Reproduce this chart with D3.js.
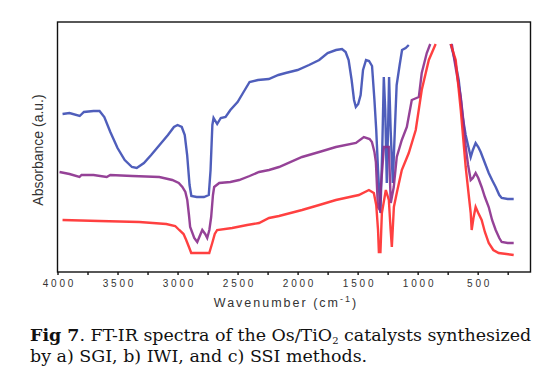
<!DOCTYPE html>
<html>
<head>
<meta charset="utf-8">
<script src="https://cdn.jsdelivr.net/npm/d3@7/dist/d3.min.js"></script>
<style>
  body { margin: 0; background: #fff; }
  svg { display: block; }
</style>
</head>
<body>
<div id="chart"></div>
<script>
// FT-IR spectra, Os/TiO2 catalysts

// wavenumbers (cm-1) and absorbance (a.u.), null = off scale
const sgiWn  = [3958, 3900, 3815, 3780, 3700, 3650, 3610, 3560, 3500, 3440, 3380, 3340, 3280, 3220, 3150, 3080, 3030, 3000, 2965, 2940, 2920, 2900, 2885, 2840, 2780, 2740, 2725, 2710, 2700, 2670, 2640, 2600, 2560, 2500, 2450, 2400, 2330, 2240, 2160, 2100, 2000, 1905, 1820, 1750, 1680, 1630, 1600, 1575, 1550, 1530, 1515, 1495, 1475, 1455, 1430, 1405, 1380, 1360, 1345, 1330, 1310, 1295, 1282, 1270, 1257, 1245, 1238, 1225, 1207, 1190, 1175, 1150, 1130, 1100, 1074, 900, 725, 690, 658, 640, 625, 600, 575, 558, 540, 517, 495, 475, 440, 408, 380, 350, 320, 300, 250, 200]
const sgiAbs = [1.58, 1.59, 1.56, 1.60, 1.61, 1.61, 1.55, 1.40, 1.24, 1.12, 1.05, 1.04, 1.09, 1.17, 1.27, 1.37, 1.45, 1.47, 1.45, 1.37, 1.17, 0.87, 0.76, 0.75, 0.75, 0.77, 1.02, 1.47, 1.54, 1.48, 1.54, 1.55, 1.62, 1.70, 1.80, 1.90, 1.92, 1.93, 1.97, 1.99, 2.02, 2.07, 2.12, 2.19, 2.22, 2.23, 2.20, 2.12, 1.92, 1.72, 1.65, 1.68, 1.77, 2.02, 2.12, 2.11, 2.06, 1.72, 1.42, 1.02, 0.59, 1.22, 1.95, 1.62, 0.89, 1.52, 1.95, 1.42, 0.89, 1.42, 1.87, 2.07, 2.22, 2.24, 2.27, null, 2.28, 2.12, 1.92, 1.72, 1.55, 1.37, 1.24, 1.15, 1.22, 1.29, 1.25, 1.20, 1.09, 0.99, 0.92, 0.85, 0.77, 0.74, 0.73, 0.73]

const iwiWn  = [3983, 3900, 3817, 3800, 3700, 3590, 3560, 3376, 3152, 3044, 2990, 2960, 2935, 2919, 2905, 2895, 2861, 2836, 2815, 2794, 2770, 2753, 2735, 2720, 2705, 2695, 2653, 2560, 2487, 2400, 2321, 2238, 2155, 1963, 1820, 1681, 1514, 1448, 1400, 1381, 1360, 1348, 1331, 1315, 1306, 1281, 1240, 1224, 1199, 1174, 1132, 1090, 1049, 990, 966, 924, 895, 800, 716, 680, 641, 620, 600, 580, 558, 540, 517, 495, 467, 440, 408, 380, 350, 320, 300, 250, 200]
const iwiAbs = [1.00, 0.98, 0.95, 0.97, 0.97, 0.95, 0.97, 0.96, 0.95, 0.92, 0.89, 0.85, 0.80, 0.72, 0.57, 0.45, 0.34, 0.30, 0.36, 0.42, 0.38, 0.34, 0.42, 0.55, 0.77, 0.85, 0.89, 0.90, 0.92, 0.96, 1.00, 1.02, 1.05, 1.15, 1.20, 1.25, 1.29, 1.35, 1.33, 1.30, 1.20, 1.10, 0.65, 0.62, 0.85, 1.25, 1.25, 0.69, 0.85, 1.15, 1.32, 1.45, 1.72, 1.75, 1.99, 2.19, 2.28, null, 2.28, 2.02, 1.75, 1.52, 1.25, 1.07, 0.92, 0.94, 0.99, 0.94, 0.85, 0.75, 0.65, 0.52, 0.42, 0.34, 0.30, 0.29, 0.29]

const ssiWn  = [3958, 3650, 3318, 3094, 3020, 2986, 2950, 2928, 2905, 2886, 2736, 2711, 2690, 2670, 2545, 2420, 2321, 2238, 2155, 1963, 1820, 1681, 1490, 1406, 1365, 1345, 1330, 1323, 1310, 1298, 1265, 1240, 1225, 1215, 1198, 1174, 1132, 1074, 1016, 966, 907, 850, 790, 725, 683, 641, 600, 570, 558, 550, 535, 517, 495, 467, 440, 408, 370, 325, 260, 200]
const ssiAbs = [0.52, 0.51, 0.50, 0.48, 0.46, 0.42, 0.38, 0.32, 0.25, 0.19, 0.19, 0.29, 0.38, 0.42, 0.44, 0.47, 0.49, 0.54, 0.56, 0.62, 0.67, 0.72, 0.77, 0.82, 0.79, 0.67, 0.42, 0.20, 0.20, 0.59, 0.82, 0.72, 0.42, 0.25, 0.65, 0.79, 1.02, 1.19, 1.42, 1.82, 2.12, 2.28, null, 2.28, 2.12, 1.62, 1.05, 0.72, 0.59, 0.42, 0.54, 0.65, 0.59, 0.52, 0.40, 0.29, 0.22, 0.19, 0.18, 0.17]

const seriesNames  = ["SGI", "IWI", "SSI"]
const seriesColors = ["#3c4db4", "#8a2e8c", "#ff2b2b"]

const xTicks = d3.range(4000, 249, -250)

const width = 553
const height = 384
const plot = { left: 57.5, right: 530.5, top: 22, bottom: 272 }

const svg = d3.select("#chart")
    .append("svg")
    .attr("width", width)
    .attr("height", height)

const x = d3.scaleLinear().domain([4000, 60]).range([plot.left, plot.right])
const y = d3.scaleLinear().domain([0, 2.5]).range([plot.bottom, plot.top])

const series = [
    { name: seriesNames[0], wn: sgiWn, abs: sgiAbs, color: seriesColors[0] },
    { name: seriesNames[1], wn: iwiWn, abs: iwiAbs, color: seriesColors[1] },
    { name: seriesNames[2], wn: ssiWn, abs: ssiAbs, color: seriesColors[2] }
]

const line = d3.line()
    .defined(d => d[1] != null)
    .x(d => x(d[0]))
    .y(d => y(d[1]))

svg.append("g")
    .selectAll("path")
    .data(series)
    .enter()
    .append("path")
    .attr("d", s => line(s.wn.map((w, i) => [w, s.abs[i]])))
    .attr("fill", "none")
    .attr("stroke", s => s.color)
    .attr("stroke-width", 2.4)
    .attr("opacity", 0.9)

// frame
svg.append("rect")
    .attr("x", plot.left)
    .attr("y", plot.top)
    .attr("width", plot.right - plot.left)
    .attr("height", plot.bottom - plot.top)
    .attr("fill", "none")
    .attr("stroke", "#111")
    .attr("stroke-width", 1.4)

// bottom axis
const xAxis = svg.append("g")
    .attr("transform", "translate(0," + plot.bottom + ")")
    .call(d3.axisBottom(x)
        .tickValues(xTicks)
        .tickSize(3)
        .tickPadding(5)
        .tickFormat(d => d % 500 == 0 ? d : ""))

xAxis.select(".domain").remove()
xAxis.selectAll(".tick line").attr("stroke", "#111").attr("stroke-width", 1.4)
xAxis.selectAll(".tick text")
    .attr("fill", "#333")
    .style("font-family", "Liberation Sans, Arial, sans-serif")
    .style("font-size", "10px")
    .style("letter-spacing", "2.8px")
    .attr("dx", "1.4px")

// axis titles
const xTitle = svg.append("text")
    .attr("x", 286)
    .attr("y", 307)
    .attr("text-anchor", "middle")
    .attr("fill", "#333")
    .style("font-family", "Liberation Sans, Arial, sans-serif")
    .style("font-size", "12.5px")
    .style("letter-spacing", "2px")
xTitle.append("tspan").text("Wavenumber (cm")
xTitle.append("tspan").text("-1").attr("dy", "-5").style("font-size", "9px")
xTitle.append("tspan").text(")").attr("dy", "5")

svg.append("text")
    .attr("transform", "translate(43,150) rotate(-90)")
    .attr("text-anchor", "middle")
    .attr("fill", "#333")
    .style("font-family", "Liberation Sans Narrow, Liberation Sans, Arial, sans-serif")
    .style("font-size", "14px")
    .text("Absorbance (a.u.)")

// caption
const caption = svg.append("g")
    .style("font-family", "DejaVu Serif, Liberation Serif, serif")
    .style("font-size", "16px")
    .attr("fill", "#111")

const line1 = caption.append("text").attr("x", 30).attr("y", 341)
line1.append("tspan").text("Fig 7").style("font-weight", "bold")
line1.append("tspan").text(". FT-IR spectra of the Os/TiO")
line1.append("tspan").text("2").attr("dy", 3).style("font-size", "10px")
line1.append("tspan").text(" catalysts synthesized").attr("dy", -3)

caption.append("text").attr("x", 30).attr("y", 362)
    .text("by a) SGI, b) IWI, and c) SSI methods.")

// fit the caption's first line to the printed width
let w1 = line1.node().getComputedTextLength()
caption.style("font-size", (16 * 502 / w1).toFixed(2) + "px")
</script>
</body>
</html>
